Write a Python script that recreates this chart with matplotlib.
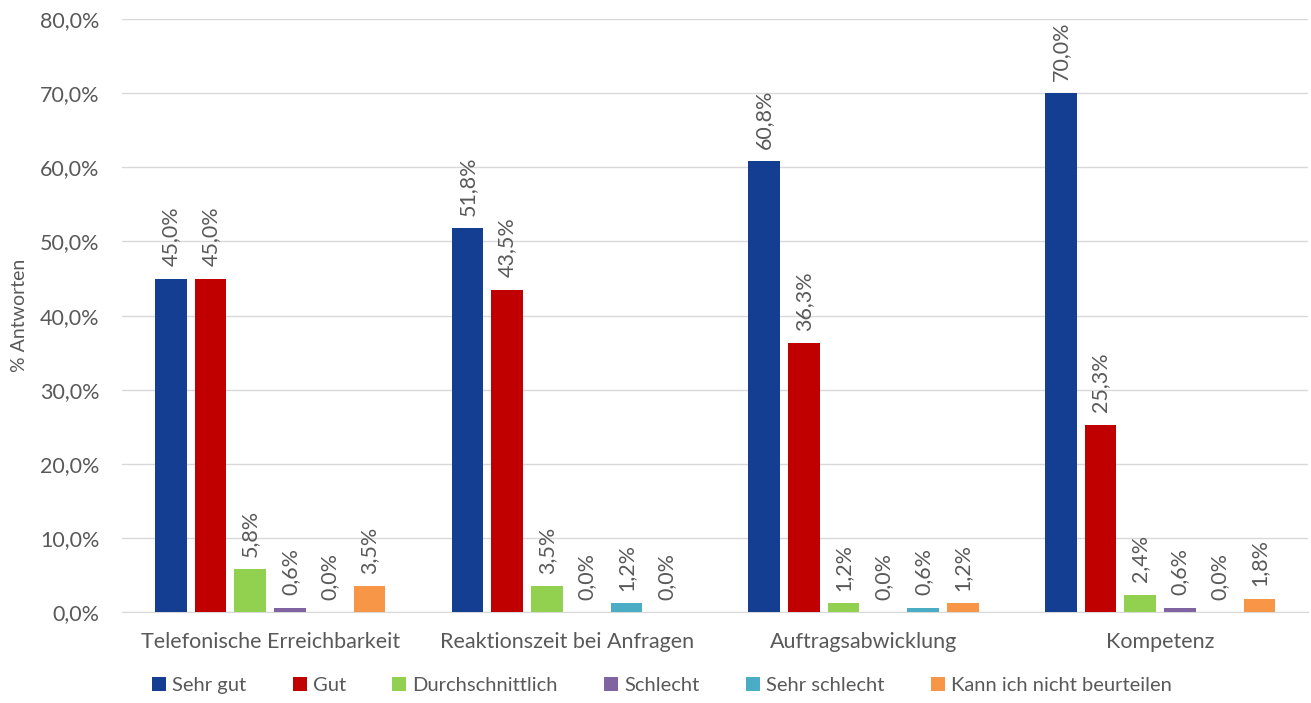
import numpy as np
import matplotlib.pyplot as plt
from matplotlib.ticker import FuncFormatter

plt.rcParams['font.family'] = ['Lato', 'DejaVu Sans']

categories = ["Telefonische Erreichbarkeit", "Reaktionszeit bei Anfragen",
              "Auftragsabwicklung", "Kompetenz"]
series = ["Sehr gut", "Gut", "Durchschnittlich", "Schlecht",
          "Sehr schlecht", "Kann ich nicht beurteilen"]
sehr_gut = [45.0, 51.8, 60.8, 70.0]
gut = [45.0, 43.5, 36.3, 25.3]
durchschnittlich = [5.8, 3.5, 1.2, 2.4]
schlecht = [0.6, 0.0, 0.0, 0.6]
sehr_schlecht = [0.0, 1.2, 0.6, 0.0]
kann_nicht = [3.5, 0.0, 1.2, 1.8]
values = [sehr_gut, gut, durchschnittlich, schlecht, sehr_schlecht, kann_nicht]
colors = ["#133E92", "#C00000", "#92D050", "#8064A2", "#4BACC6", "#F79646"]

txt = "#595959"
fs = 15.5
fig = plt.figure(figsize=(13.11, 7.03), dpi=100)
ax = fig.add_axes([0.093, 0.129, 0.905, 0.844])

x = np.arange(len(categories))
step = 0.134
width = 0.107
for i, (name, vals, c) in enumerate(zip(series, values, colors)):
    pos = x + (i - 2.5) * step
    ax.bar(pos, vals, width, color=c, label=name, zorder=3)
    for p, v in zip(pos, vals):
        ax.annotate(f"{v:.1f}%".replace('.', ','), (p, v), xytext=(0, 9),
                    textcoords="offset points", rotation=90, ha='center',
                    va='bottom', fontsize=fs, color=txt)

ax.set_xlim(-0.5, 3.5)
ax.set_ylim(0, 80)
ax.set_yticks(np.arange(0, 81, 10))
ax.yaxis.set_major_formatter(FuncFormatter(lambda v, _: f"{v:.1f}%".replace('.', ',')))
ax.set_xticks(x)
ax.set_xticklabels(categories)
ax.tick_params(axis='both', length=0, labelsize=fs, colors=txt)
ax.tick_params(axis='y', pad=16)
ax.tick_params(axis='x', pad=14)
ax.grid(axis='y', color="#D9D9D9", linewidth=1, zorder=0)
for s in ['top', 'right', 'left']:
    ax.spines[s].set_visible(False)
ax.spines['bottom'].set_color("#D9D9D9")
ax.set_ylabel("% Antworten", fontsize=14, color=txt, labelpad=9)

leg = ax.legend(loc='upper center', bbox_to_anchor=(0.455, -0.078), ncol=6,
                frameon=False, fontsize=14.5, handlelength=0.7, handleheight=0.7,
                handletextpad=0.3, columnspacing=2.3)
for t in leg.get_texts():
    t.set_color(txt)

fig.savefig("out.png", dpi=100)
